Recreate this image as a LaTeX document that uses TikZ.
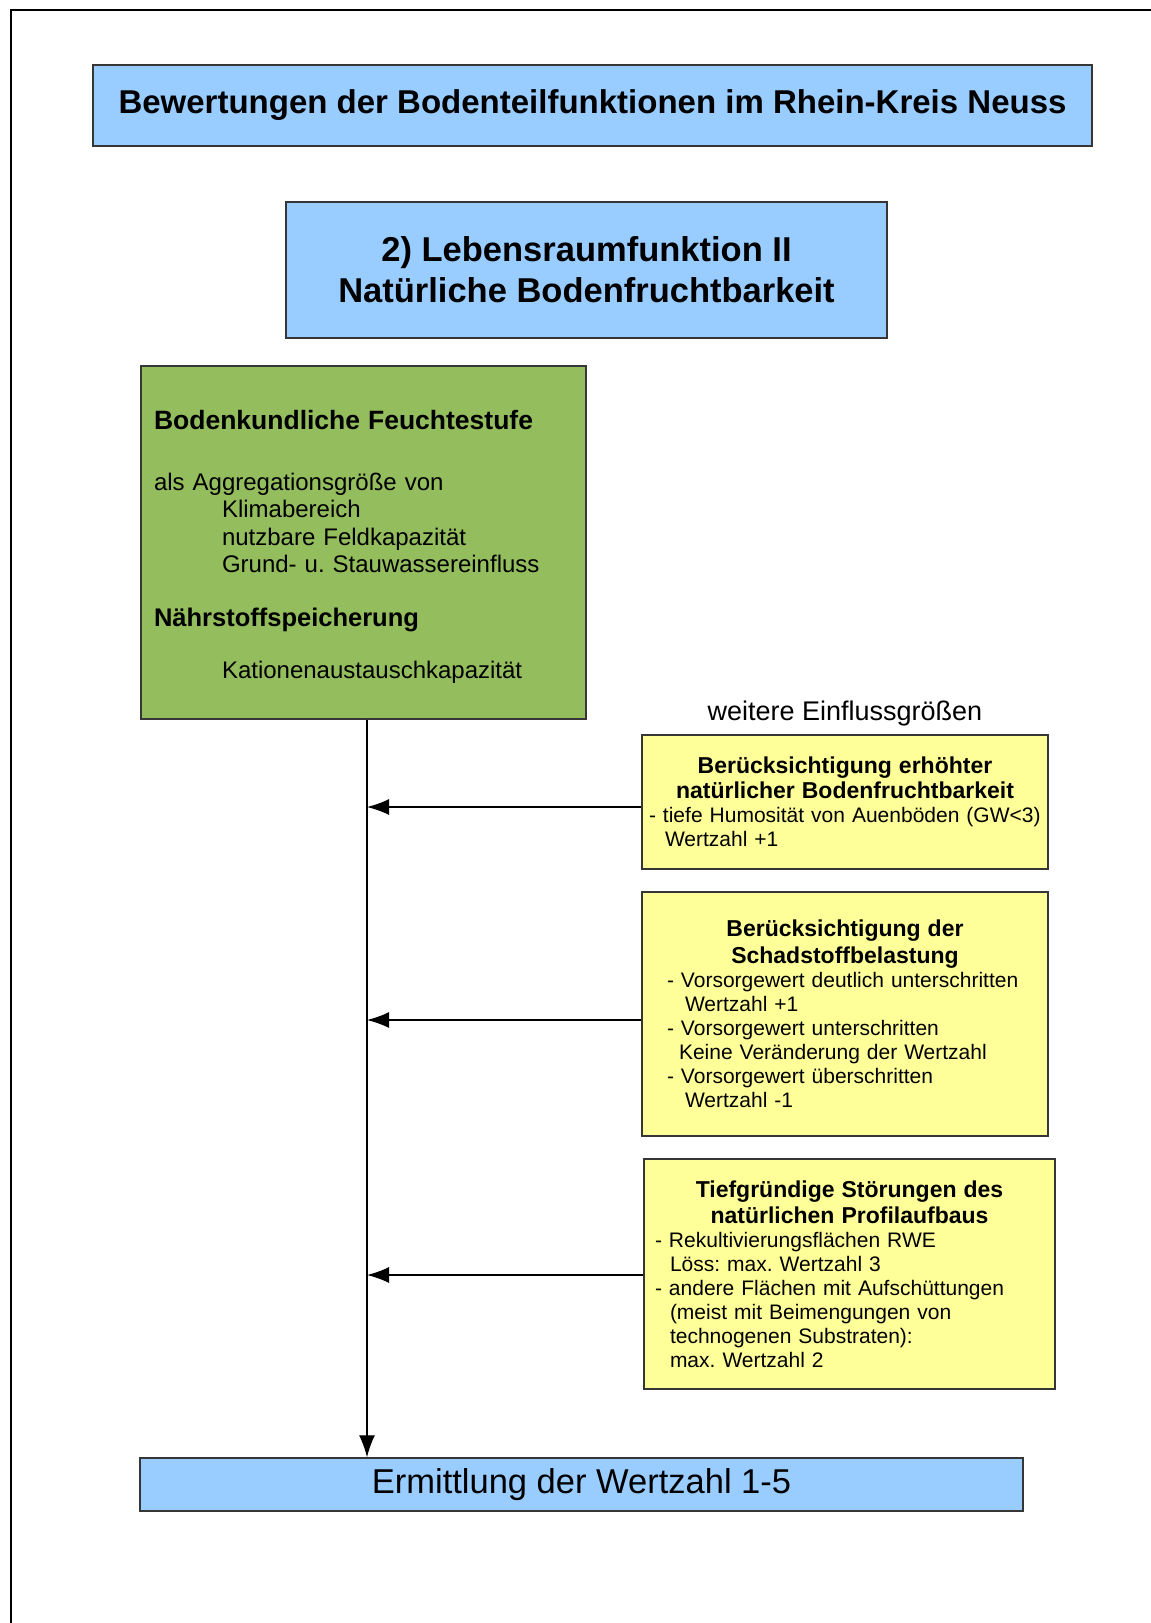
\documentclass[tikz,border=0pt]{standalone}
\usepackage{fontspec}
\setmainfont{Liberation Sans}
\usetikzlibrary{arrows.meta, positioning}
\definecolor{skyblue}{HTML}{99CCFF}
\definecolor{grassgreen}{HTML}{94BD5E}
\definecolor{paleyellow}{HTML}{FFFF99}
\definecolor{boxline}{HTML}{363636}
\tikzset{>={Latex[length=22pt, width=16pt]}}
\frenchspacing

\begin{document}
\begin{tikzpicture}[x=1pt, y=-1pt,
    box/.style={draw=boxline, line width=1.5pt, inner sep=0pt},
    bluebox/.style={box, fill=skyblue, align=center},
    yellowbox/.style={box, fill=paleyellow, align=left, font=\fontsize{21}{24}\selectfont},
    conn/.style={line width=1.3pt, ->}]
    \useasboundingbox (0,0) rectangle (1151,1623);

    % Coordinates
    \coordinate (T) at (592.5,105.5);
    \coordinate (L) at (586.5,270);
    \coordinate (G) at (363.5,542.5);
    \coordinate (Y1) at (845,802);
    \coordinate (Y2) at (845,1014);
    \coordinate (Y3) at (849.5,1274);
    \coordinate (R) at (581.5,1484.5);

    % Frame
    \draw[line width=2pt] (11,1623) -- (11,10) -- (1151,10);

    % Title
    \node[bluebox, minimum width=999, minimum height=81,
          font=\fontsize{33}{38}\selectfont\bfseries] (title) at (T)
        {Bewertungen der Bodenteilfunktionen im Rhein-Kreis Neuss};

    % Function
    \node[bluebox, minimum width=601, minimum height=136,
          font=\fontsize{34.5}{41}\selectfont\bfseries] (func) at (L)
        {2) Lebensraumfunktion II\\Natürliche Bodenfruchtbarkeit};

    % Main parameters
    \node[box, fill=grassgreen, align=left, inner xsep=13, text width=419,
          minimum height=353, font=\fontsize{24}{27.5}\selectfont] (green) at (G)
        {\rule{0pt}{28pt}{\bfseries\fontsize{26.5}{27.5}\selectfont Bodenkundliche Feuchtestufe}\\[33pt]
         als Aggregationsgröße von\\
         \hspace*{68pt}Klimabereich\\
         \hspace*{68pt}nutzbare Feldkapazität\\
         \hspace*{68pt}Grund- u. Stauwassereinfluss\\[26.5pt]
         {\bfseries\fontsize{25.5}{27.5}\selectfont Nährstoffspeicherung}\\[24.5pt]
         \hspace*{68pt}Kationenaustauschkapazität};

    % Further factors
    \node[font=\fontsize{27}{30}\selectfont] (more) at (845,714) {weitere Einflussgrößen};

    \node[yellowbox, inner xsep=7, text width=392, minimum height=134] (yel1) at (Y1)
        {{\centering\bfseries\fontsize{23}{25}\selectfont Berücksichtigung erhöhter\\natürlicher Bodenfruchtbarkeit\par}
         - tiefe Humosität von Auenböden (GW<3)\\
         \hspace*{16pt}Wertzahl +1};

    \node[yellowbox, inner xsep=25, text width=356, minimum height=244] (yel2) at (Y2)
        {{\centering\bfseries\fontsize{23}{27}\selectfont Berücksichtigung der\\Schadstoffbelastung\par}
         - Vorsorgewert deutlich unterschritten\\
         \hspace*{18pt}Wertzahl +1\\
         - Vorsorgewert unterschritten\\
         \hspace*{12pt}Keine Veränderung der Wertzahl\\
         - Vorsorgewert überschritten\\
         \hspace*{18pt}Wertzahl -1};

    \node[yellowbox, inner xsep=11, text width=389, minimum height=230] (yel3) at (Y3)
        {{\centering\bfseries\fontsize{23}{26}\selectfont Tiefgründige Störungen des\\natürlichen Profilaufbaus\par}
         - Rekultivierungsflächen RWE\\
         \hspace*{15pt}Löss: max. Wertzahl 3\\
         - andere Flächen mit Aufschüttungen\\
         \hspace*{15pt}(meist mit Beimengungen von\\
         \hspace*{15pt}technogenen Substraten):\\
         \hspace*{15pt}max. Wertzahl 2};

    % Result
    \node[bluebox, minimum width=883, minimum height=53,
          font=\fontsize{34.5}{40}\selectfont] (result) at (R)
        {Ermittlung der Wertzahl 1-5};

    % Lines
    \coordinate (trunk) at ([xshift=3.5]green.south);
    \draw[conn] (trunk) -- (trunk |- result.north);
    \foreach \b/\d in {yel1/-5, yel2/-6, yel3/-1}
        \draw[conn] ([yshift=\d]\b.west) -- ([yshift=\d]\b.west -| trunk);
\end{tikzpicture}
\end{document}
